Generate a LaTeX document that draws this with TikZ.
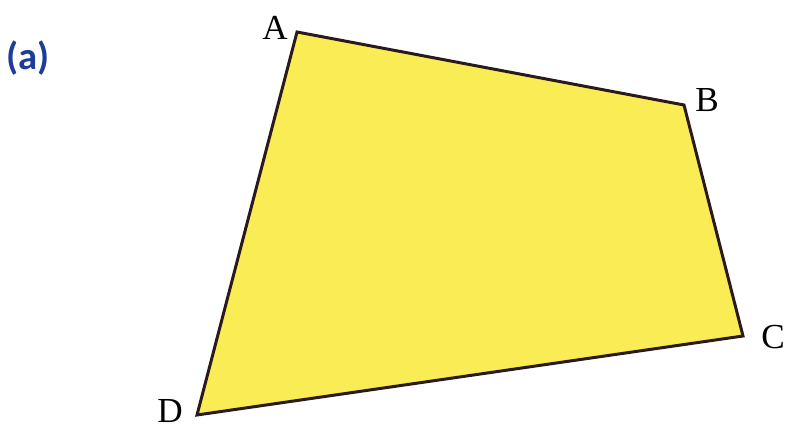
\documentclass[tikz,border=0pt]{standalone}
\usepackage{fontspec}
\setmainfont{Liberation Serif}
\newfontfamily\labelfont{Carlito}
\usepackage{xcolor}
\usepackage{tikz}
\usetikzlibrary{calc}

\definecolor{quadfill}{HTML}{F9EC55}
\definecolor{quadline}{HTML}{2A1A1C}
\definecolor{partblue}{HTML}{1F3C9A}

\begin{document}
\begin{tikzpicture}[x=0.02cm,y=-0.02cm,
  vertex/.style={font=\fontsize{20}{24}\selectfont,inner sep=0pt},
  part/.style={font=\labelfont\bfseries\fontsize{22}{26}\selectfont,text=partblue,inner sep=0pt},
  side/.style={draw=quadline,line width=1.7pt,line join=miter}
]
\useasboundingbox (0,0) rectangle (787,428);

\coordinate (A) at (297,32);
\coordinate (B) at (684,105);
\coordinate (C) at (743,336);
\coordinate (D) at (197,415);

\fill[quadfill] (A) -- (B) -- (C) -- (D) -- cycle;
\draw[side] (A) -- (B) -- (C) -- (D) -- cycle;

\node[vertex] (labA) at (275,28) {A};
\node[vertex] (labB) at (707,100) {B};
\node[vertex] (labC) at (773,337) {C};
\node[vertex] (labD) at (170,411) {D};

\node[part] (parta) at (28,58) {(a)};
\end{tikzpicture}
\end{document}
